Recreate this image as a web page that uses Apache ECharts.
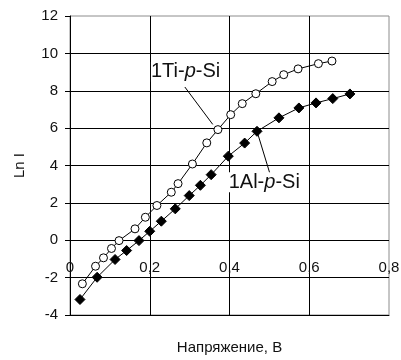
<!DOCTYPE html>
<html>
<head>
<meta charset="utf-8">
<script src="https://cdn.jsdelivr.net/npm/echarts@6/dist/echarts.min.js"></script>
<style>html,body{margin:0;padding:0;background:#fff}#c{width:401px;height:360px}</style>
</head>
<body>
<div id="c"></div>
<script>
// Data
const tiVoltage = [0.031,0.064,0.084,0.104,0.123,0.163,0.189,0.218,0.254,0.271,0.307,0.343,0.371,0.403,0.432,0.466,0.507,0.536,0.572,0.623,0.657];
const tiLnI     = [-2.33,-1.39,-0.94,-0.44,-0.02,0.61,1.23,1.86,2.57,3.03,4.08,5.21,5.92,6.72,7.31,7.84,8.49,8.86,9.17,9.45,9.59];
const alVoltage = [0.025,0.068,0.113,0.142,0.173,0.200,0.229,0.264,0.299,0.327,0.354,0.397,0.438,0.469,0.524,0.574,0.617,0.659,0.702];
const alLnI     = [-3.17,-1.98,-1.03,-0.55,-0.02,0.48,1.02,1.68,2.39,2.94,3.51,4.50,5.20,5.83,6.55,7.08,7.35,7.58,7.83];
const xTickLabels = ['0','0,2','0,4','0,6','0,8'];
const xTicks = [0,0.2,0.4,0.6,0.8];
const seriesNames = ['1Ti-p-Si','1Al-p-Si'];
const xTitle = 'Напряжение, В';
const yTitle = 'Ln I';

const font = "'Liberation Sans', Arial, sans-serif";
const chart = echarts.init(document.getElementById('c'), null, {renderer:'canvas'});
const zip = (a,b) => a.map((v,i)=>[v,b[i]]);

chart.setOption({
  animation:false,
  backgroundColor:'#fff',
  textStyle:{fontFamily:font},
  grid:{left:70,right:12,top:16,bottom:45,containLabel:false,outerBoundsMode:'none',
        show:true,borderColor:'#8c8c8c',borderWidth:1,backgroundColor:'transparent'},
  xAxis:{
    type:'value',min:0,max:0.8,interval:0.2,
    name:xTitle,nameLocation:'middle',nameGap:25,
    nameTextStyle:{fontSize:15,color:'#111',fontFamily:font},
    axisLine:{show:true,onZero:false,lineStyle:{color:'#000',width:1}},
    axisTick:{show:false},
    axisLabel:{margin:-55,fontSize:15,color:'#111',fontFamily:font,showMinLabel:true,showMaxLabel:true,
      formatter:(v)=>{const i=xTicks.findIndex(t=>Math.abs(t-v)<1e-6);return i>=0?xTickLabels[i]:'';}},
    splitLine:{show:true,showMaxLine:false,lineStyle:{color:'#000',width:1}}
  },
  yAxis:{
    type:'value',min:-4,max:12,interval:2,
    name:yTitle,nameLocation:'middle',nameGap:43,
    nameTextStyle:{fontSize:15,color:'#111',fontFamily:font},
    axisLine:{show:true,lineStyle:{color:'#000',width:1}},
    axisTick:{show:true,length:5,lineStyle:{color:'#000'}},
    axisLabel:{margin:12,fontSize:15,color:'#111',fontFamily:font},
    splitLine:{show:true,showMaxLine:false,lineStyle:{color:'#000',width:1}}
  },
  series:[
    {name:seriesNames[0],type:'line',data:zip(tiVoltage,tiLnI),symbol:'circle',symbolSize:8,
     lineStyle:{color:'#000',width:1},itemStyle:{color:'#fff',borderColor:'#000',borderWidth:1},z:3},
    {name:seriesNames[1],type:'line',data:zip(alVoltage,alLnI),symbol:'diamond',symbolSize:[10,10],
     lineStyle:{color:'#000',width:1},itemStyle:{color:'#000',borderColor:'#000',borderWidth:1},z:3}
  ]
});

// Annotations positioned in data coordinates
const P = (x,y)=>chart.convertToPixel({gridIndex:0},[x,y]);
const tiText = P(0.203,9.02), tiA = P(0.288,8.2), tiB = P(0.358,6.2);
const alText = P(0.398,3.1), alA = P(0.469,5.83), alB = P(0.503,3.45);
chart.setOption({graphic:[
  {type:'line',shape:{x1:tiA[0],y1:tiA[1],x2:tiB[0],y2:tiB[1]},style:{stroke:'#000',lineWidth:1},z:10},
  {type:'line',shape:{x1:alA[0],y1:alA[1],x2:alB[0],y2:alB[1]},style:{stroke:'#000',lineWidth:1},z:10},
  {type:'text',x:tiText[0],y:tiText[1],z:11,style:{text:'1Ti-{i|p}-Si',fontSize:20,fontFamily:font,fill:'#111',backgroundColor:'#fff',
    verticalAlign:'middle',align:'left',rich:{i:{fontStyle:'italic',fontSize:20,fontFamily:font,fill:'#111'}}}},
  {type:'text',x:alText[0],y:alText[1],z:11,style:{text:'1Al-{i|p}-Si',fontSize:20,fontFamily:font,fill:'#111',backgroundColor:'#fff',
    verticalAlign:'middle',align:'left',rich:{i:{fontStyle:'italic',fontSize:20,fontFamily:font,fill:'#111'}}}}
]});
</script>
</body>
</html>
